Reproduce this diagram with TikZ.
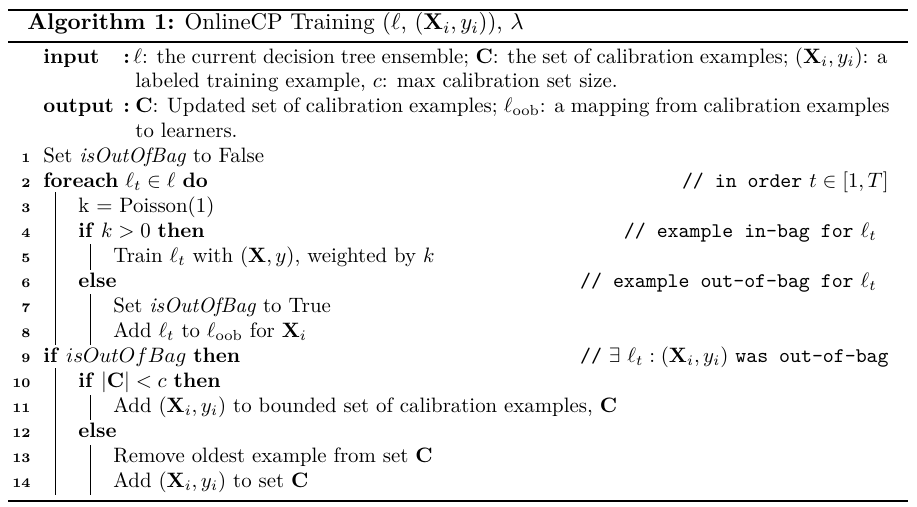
\documentclass[tikz,border=0pt]{standalone}
\usepackage{amsmath,amssymb}
\begin{document}
\begin{tikzpicture}[x=0.48pt,y=-0.48pt,
  txt/.style={anchor=base west,inner sep=0pt,font=\fontsize{10}{12}\selectfont},
  captxt/.style={anchor=base west,inner sep=0pt,font=\fontsize{10.95}{13.6}\selectfont},
  cmt/.style={anchor=base east,inner sep=0pt,font=\fontsize{10}{12}\selectfont},
  lno/.style={anchor=base east,inner sep=0pt,font=\fontsize{6.3}{7}\selectfont\bfseries},
  rule/.style={line width=0.8pt},
  vbar/.style={line width=0.5pt}]
\useasboundingbox (0,0) rectangle (917,506);
\coordinate (tl) at (8,10); \coordinate (tr) at (908,10);
\coordinate (ml) at (8,42); \coordinate (mr) at (908,42);
\coordinate (bl) at (8,501); \coordinate (br) at (908,501);
\draw[rule] (tl) -- (tr);
\draw[rule] (ml) -- (mr);
\draw[rule] (bl) -- (br);
% caption
\node[captxt] (cap) at (27,30) {\textbf{Algorithm 1:} OnlineCP Training ($\ell$, $(\mathbf{X}_i, y_i)$), $\lambda$};
% input/output
\node[txt] (in) at (43,63) {\textbf{input}};
\node[txt] (inc) at (123,63) {\textbf{:}};
\node[txt] (in1t) at (133,63) {\makebox[362pt][s]{$\ell$: the current decision tree ensemble; $\mathbf{C}$: the set of calibration examples; $(\mathbf{X}_i, y_i)$: a}};
\node[txt] (in2) at (135,87) {labeled training example, $c$: max calibration set size.};
\node[txt] (out) at (43,112) {\textbf{output}};
\node[txt] (outc) at (123,112) {\textbf{:}};
\node[txt] (out1) at (135,112) {\makebox[362pt][s]{$\mathbf{C}$: Updated set of calibration examples; $\ell_{\mathrm{oob}}$: a mapping from calibration examples}};
\node[txt] (out2) at (135,137) {to learners.};
% line numbers
\foreach \i in {1,...,14} {
  \node[lno] (n\i) at (31,{162+25*(\i-1)}) {\i};
}
% lines
\node[txt] (l1) at (43,162) {Set \textit{isOutOfBag} to False};
\node[txt] (l2) at (43,187) {\textbf{foreach} $\ell_t \in \ell$ \textbf{do}};
\node[cmt] (c2) at (889,187) {\texttt{// in order} $t \in [1, T]$};
\node[txt] (l3) at (78,212) {k $=$ Poisson(1)};
\node[txt] (l4) at (78,237) {\textbf{if} $k > 0$ \textbf{then}};
\node[cmt] (c4) at (877,237) {\texttt{// example in-bag for} $\ell_t$};
\node[txt] (l5) at (113,262) {Train $\ell_t$ with $(\mathbf{X}, y)$, weighted by $k$};
\node[txt] (l6) at (78,287) {\textbf{else}};
\node[cmt] (c6) at (877,287) {\texttt{// example out-of-bag for} $\ell_t$};
\node[txt] (l7) at (113,312) {Set \textit{isOutOfBag} to True};
\node[txt] (l8) at (113,337) {Add $\ell_t$ to $\ell_{\mathrm{oob}}$ for $\mathbf{X}_i$};
\node[txt] (l9) at (43,362) {\textbf{if} $isOutOfBag$ \textbf{then}};
\node[cmt] (c9) at (889,362) {\texttt{//} $\exists\ \ell_t : (\mathbf{X}_i, y_i)$ \texttt{was out-of-bag}};
\node[txt] (l10) at (78,387) {\textbf{if} $|\mathbf{C}| < c$ \textbf{then}};
\node[txt] (l11) at (113,412) {Add $(\mathbf{X}_i, y_i)$ to bounded set of calibration examples, $\mathbf{C}$};
\node[txt] (l12) at (78,437) {\textbf{else}};
\node[txt] (l13) at (113,462) {Remove oldest example from set $\mathbf{C}$};
\node[txt] (l14) at (113,487) {Add $(\mathbf{X}_i, y_i)$ to set $\mathbf{C}$};
% block bars
\coordinate (b1t) at (55.5,192); \coordinate (b1b) at (55.5,345);
\coordinate (b2t) at (90.5,244); \coordinate (b2b) at (90.5,270);
\coordinate (b3t) at (90.5,294); \coordinate (b3b) at (90.5,345);
\coordinate (b4t) at (55.5,368); \coordinate (b4b) at (55.5,495);
\coordinate (b5t) at (90.5,395); \coordinate (b5b) at (90.5,420);
\coordinate (b6t) at (90.5,445); \coordinate (b6b) at (90.5,495);
\draw[vbar] (b1t) -- (b1b);
\draw[vbar] (b2t) -- (b2b);
\draw[vbar] (b3t) -- (b3b);
\draw[vbar] (b4t) -- (b4b);
\draw[vbar] (b5t) -- (b5b);
\draw[vbar] (b6t) -- (b6b);
\end{tikzpicture}
\end{document}
